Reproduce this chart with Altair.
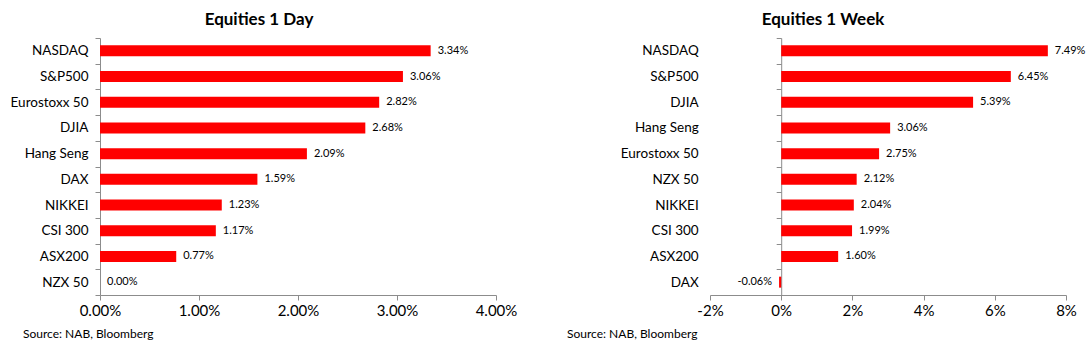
import altair as alt
import pandas as pd

day_names = ["NASDAQ", "S&P500", "Eurostoxx 50", "DJIA", "Hang Seng", "DAX",
             "NIKKEI", "CSI 300", "ASX200", "NZX 50"]
day_values = [3.34, 3.06, 2.82, 2.68, 2.09, 1.59, 1.23, 1.17, 0.77, 0.00]
day_ticks = [0, 1, 2, 3, 4]

week_names = ["NASDAQ", "S&P500", "DJIA", "Hang Seng", "Eurostoxx 50", "NZX 50",
              "NIKKEI", "CSI 300", "ASX200", "DAX"]
week_values = [7.49, 6.45, 5.39, 3.06, 2.75, 2.12, 2.04, 1.99, 1.60, -0.06]
week_ticks = [-2, 0, 2, 4, 6, 8]

source_text = "Source: NAB, Bloomberg"

FONT = "Lato"
RED = "#FF0000"
GRAY = "#8C8C8C"
PLOT_H = 257


def panel(names, values, ticks, title, width, label_expr, y_offset, label_pad,
          extent, title_dx, src_x):
    df = pd.DataFrame({"name": names, "value": values,
                       "label": [f"{v:.2f}%" for v in values]})
    x = alt.X("value:Q",
              scale=alt.Scale(domain=[ticks[0], ticks[-1]], nice=False),
              axis=alt.Axis(values=ticks, labelExpr=label_expr, title=None, grid=False,
                            domainColor=GRAY, tickColor=GRAY, tickSize=5,
                            labelFontSize=15, labelFont=FONT, labelColor="#000",
                            labelPadding=3, labelFlush=False))
    y = alt.Y("name:N", sort=names,
              scale=alt.Scale(paddingInner=0, paddingOuter=0),
              axis=alt.Axis(title=None, domainColor=GRAY, tickColor=GRAY, tickSize=5,
                            tickBand="extent", labelFontSize=13.5, labelFont=FONT,
                            labelColor="#000", labelPadding=label_pad, offset=y_offset,
                            minExtent=extent, maxExtent=extent))
    base = alt.Chart(df).encode(x=x, y=y)
    bars = base.mark_bar(color=RED, size=11)
    pos = base.transform_filter("datum.value >= 0").mark_text(
        align="left", baseline="middle", dx=7, fontSize=11, font=FONT, color="#000"
    ).encode(text="label:N")
    neg = base.transform_filter("datum.value < 0").mark_text(
        align="right", baseline="middle", dx=-7, fontSize=11, font=FONT, color="#000"
    ).encode(text="label:N")
    src = alt.Chart(pd.DataFrame({"t": [source_text]})).mark_text(
        align="left", baseline="middle", fontSize=12, font=FONT, color="#000"
    ).encode(x=alt.value(src_x), y=alt.value(PLOT_H + 39), text="t:N")
    return alt.layer(bars, pos, neg, src).properties(
        width=width, height=PLOT_H,
        title=alt.TitleParams(title, fontSize=17, font=FONT, fontWeight="bold",
                              anchor="middle", dx=title_dx, offset=2, color="#000"))


left = panel(day_names, day_values, day_ticks, "Equities 1 Day", 396,
             "format(datum.value, '.2f') + '%'", 0, 7, 96, -39, -77)
right = panel(week_names, week_values, week_ticks, "Equities 1 Week", 356,
              "datum.value + '%'", -71.2, 78, 20, -65, -143)

chart = alt.hconcat(left, right, spacing=214, bounds="flush").properties(
    padding={"left": 4, "top": 11, "right": 5, "bottom": 5}
).configure_view(stroke=None)

chart.save("out.html", embed_options={"renderer": "svg", "actions": False})
